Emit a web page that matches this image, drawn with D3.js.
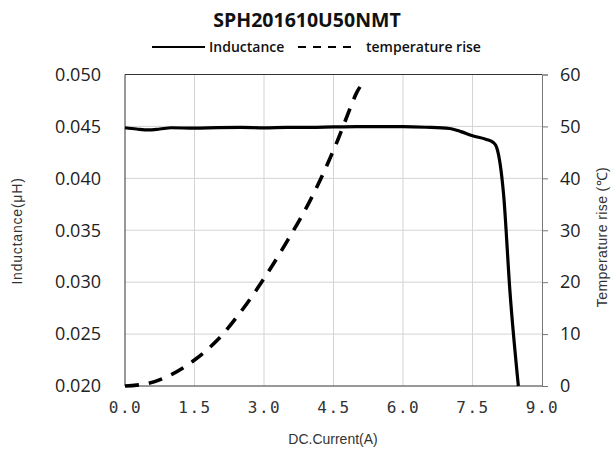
<!DOCTYPE html>
<html><head><meta charset="utf-8">
<script src="https://cdn.jsdelivr.net/npm/d3@7"></script>
<style>body{margin:0;background:#fff}svg{display:block}</style>
</head><body>
<svg id="c" width="613" height="452"></svg>
<script>
const title = "SPH201610U50NMT";
const xTicks = [0, 1.5, 3.0, 4.5, 6.0, 7.5, 9.0];
const yLeftTicks = [0.020, 0.025, 0.030, 0.035, 0.040, 0.045, 0.050];
const yRightTicks = [0, 10, 20, 30, 40, 50, 60];
const indCurrent = [0, 0.25, 0.5, 0.75, 1.0, 1.5, 2.0, 2.5, 3.0, 3.5, 4.0, 4.5, 5.0, 5.5, 6.0, 6.5, 7.0, 7.25, 7.5, 7.8, 7.95, 8.02, 8.17, 8.31, 8.49];
const inductance = [0.04487, 0.04475, 0.04466, 0.04475, 0.04487, 0.04483, 0.04488, 0.04490, 0.04486, 0.04490, 0.04490, 0.04495, 0.04498, 0.04498, 0.04498, 0.04492, 0.04480, 0.04450, 0.04410, 0.04375, 0.04345, 0.04300, 0.03850, 0.02900, 0.02000];
const tempCurrent = [0, 0.5, 1.0, 1.5, 2.0, 2.5, 3.0, 3.5, 4.0, 4.5, 5.0, 5.1];
const tempRise = [0, 0.5, 2.2, 5.0, 8.9, 14.3, 20.7, 27.9, 35.8, 45.4, 56.5, 58.0];

const svg = d3.select("#c");
const L = 125, R = 542, T = 74.5, B = 386;
const x = d3.scaleLinear().domain([0, 9]).range([L, R]);
const yL = d3.scaleLinear().domain([0.020, 0.050]).range([B, T]);
const yR = d3.scaleLinear().domain([0, 60]).range([B, T]);

// grid
const g = svg.append("g");
g.selectAll("line.vg").data(xTicks.slice(1, -1)).enter().append("line")
  .attr("x1", d => x(d)).attr("x2", d => x(d)).attr("y1", T).attr("y2", B)
  .attr("stroke", "#d4d4d4").attr("stroke-width", 1);
g.selectAll("line.hg").data(yLeftTicks.slice(1, -1)).enter().append("line")
  .attr("y1", d => yL(d)).attr("y2", d => yL(d)).attr("x1", L).attr("x2", R)
  .attr("stroke", "#d4d4d4").attr("stroke-width", 1);

// border
svg.append("line").attr("x1", L).attr("x2", R).attr("y1", T).attr("y2", T).attr("stroke", "#333");
svg.append("line").attr("x1", L).attr("x2", L).attr("y1", T).attr("y2", B).attr("stroke", "#333");
svg.append("line").attr("x1", L).attr("x2", R).attr("y1", B).attr("y2", B).attr("stroke", "#333");

// right axis
const ra = svg.append("g").attr("transform", `translate(${R},0)`)
  .call(d3.axisRight(yR).tickValues(yRightTicks).tickSize(6).tickPadding(12).tickFormat(d3.format("d")));
ra.select(".domain").attr("stroke", "#777");
ra.selectAll(".tick line").attr("stroke", "#777");
ra.selectAll("text").attr("font-family", "Open Sans").attr("font-size", 18).attr("fill", "#222");

// left axis
const la = svg.append("g").attr("transform", `translate(${L},0)`)
  .call(d3.axisLeft(yL).tickValues(yLeftTicks).tickSize(0).tickPadding(24).tickFormat(d3.format(".3f")));
la.select(".domain").remove();
la.selectAll("text").attr("font-family", "Open Sans").attr("font-size", 18).attr("fill", "#222");

// bottom axis
const ba = svg.append("g").attr("transform", `translate(0,${B})`)
  .call(d3.axisBottom(x).tickValues(xTicks).tickSize(0).tickPadding(16).tickFormat(d3.format(".1f")));
ba.select(".domain").remove();
ba.selectAll("text").attr("font-family", "DejaVu Sans Mono").attr("font-size", 16).attr("fill", "#333")
  .attr("letter-spacing", 1.5);

// lines
const lineI = d3.line().x((d, i) => x(indCurrent[i])).y(d => yL(d)).curve(d3.curveMonotoneX);
svg.append("path").attr("d", lineI(inductance)).attr("fill", "none").attr("stroke", "#000").attr("stroke-width", 3.2);
const lineT = d3.line().x((d, i) => x(tempCurrent[i])).y(d => yR(d)).curve(d3.curveCatmullRom);
svg.append("path").attr("d", lineT(tempRise)).attr("fill", "none").attr("stroke", "#000").attr("stroke-width", 3.6)
  .attr("stroke-dasharray", "14,10");

// title
svg.append("text").attr("x", 307).attr("y", 27).attr("text-anchor", "middle")
  .attr("font-family", "Open Sans").attr("font-weight", "bold").attr("font-size", 19.5).attr("fill", "#111").text(title);

// legend
svg.append("line").attr("x1", 152).attr("x2", 205).attr("y1", 47).attr("y2", 47).attr("stroke", "#000").attr("stroke-width", 2);
svg.append("text").attr("x", 209).attr("y", 52).attr("font-family", "Open Sans").attr("font-weight", 600).attr("font-size", 14).attr("fill", "#111").text("Inductance");
svg.append("line").attr("x1", 298).attr("x2", 356).attr("y1", 47).attr("y2", 47).attr("stroke", "#000").attr("stroke-width", 2).attr("stroke-dasharray", "8,7");
svg.append("text").attr("x", 366).attr("y", 52).attr("font-family", "Open Sans").attr("font-weight", 600).attr("font-size", 14).attr("fill", "#111").text("temperature rise");

// axis titles
svg.append("text").attr("x", 333).attr("y", 444).attr("text-anchor", "middle")
  .attr("font-family", "Liberation Sans").attr("font-size", 14).attr("fill", "#333").text("DC.Current(A)");
svg.append("text").attr("transform", "translate(22,231) rotate(-90)").attr("text-anchor", "middle")
  .attr("font-family", "Liberation Sans").attr("font-size", 14).attr("letter-spacing", 0.8).attr("fill", "#333").text("Inductance(μH)");
svg.append("text").attr("transform", "translate(607,237) rotate(-90)").attr("text-anchor", "middle")
  .attr("font-family", "Liberation Sans").attr("font-size", 14).attr("letter-spacing", 0.4).attr("fill", "#333").text("Temperature rise (℃)");
</script>
</body></html>
